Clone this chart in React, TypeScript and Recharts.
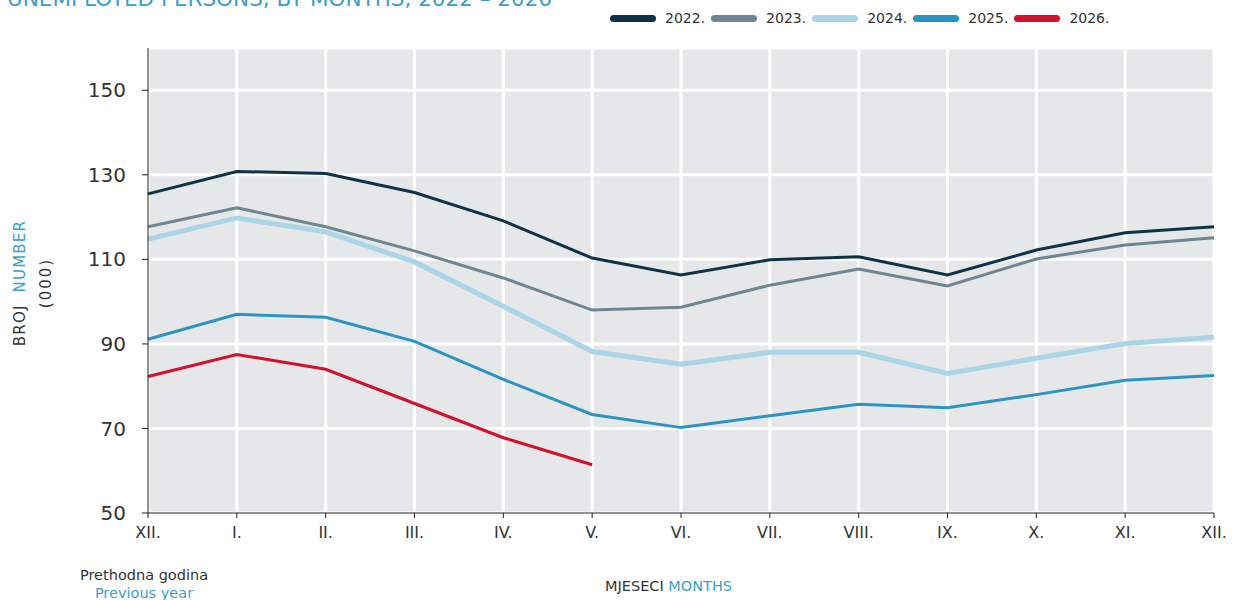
import React from "react";
import { CartesianGrid, Line, LineChart, XAxis, YAxis } from "recharts";

// Unemployed persons by month, 2022–2026 (thousands). First point = December of the previous year.
const months = ["XII.", "I.", "II.", "III.", "IV.", "V.", "VI.", "VII.", "VIII.", "IX.", "X.", "XI.", "XII."];
const y2022 = [125.5, 130.8, 130.3, 125.8, 119.1, 110.3, 106.3, 109.9, 110.6, 106.3, 112.2, 116.3, 117.7];
const y2023 = [117.7, 122.2, 117.7, 112.0, 105.6, 98.0, 98.7, 103.9, 107.7, 103.7, 110.1, 113.4, 115.1];
const y2024 = [114.8, 119.8, 116.5, 109.4, 98.9, 88.2, 85.2, 88.0, 88.0, 83.0, 86.6, 90.1, 91.6];
const y2025 = [91.1, 97.0, 96.3, 90.6, 81.6, 73.3, 70.2, 73.0, 75.7, 74.9, 78.0, 81.4, 82.5];
const y2026 = [82.3, 87.5, 84.0, 75.9, 67.8, 61.4];
const yTicks = [50, 70, 90, 110, 130, 150];

const SERIES = [
  { key: "y2022", name: "2022.", color: "#0e3348", width: 3 },
  { key: "y2023", name: "2023.", color: "#6e8691", width: 3 },
  { key: "y2024", name: "2024.", color: "#a9d5e7", width: 5 },
  { key: "y2025", name: "2025.", color: "#2a94c4", width: 3 },
  { key: "y2026", name: "2026.", color: "#d5102f", width: 3 },
];
const BLUE = "#3a9fcb";
const INK = "#333333";
const FONT = "'DejaVu Sans', sans-serif";

const rows = months.map((m, i) => ({
  i,
  y2022: y2022[i],
  y2023: y2023[i],
  y2024: y2024[i],
  y2025: y2025[i],
  y2026: i < y2026.length ? y2026[i] : null,
}));

export default function App() {
  return (
    <div style={{ position: "absolute", left: 0, top: 0, width: 1240, height: 600, background: "#fff", overflow: "hidden", fontFamily: FONT }}>
      <div style={{ position: "absolute", left: 7, top: -14, fontSize: 21.5, color: BLUE, whiteSpace: "nowrap" }}>
        UNEMPLOYED PERSONS, BY MONTHS, 2022 – 2026
      </div>

      {/* legend */}
      <div style={{ position: "absolute", left: 610, top: 10, display: "flex", alignItems: "center", fontSize: 14, color: INK }}>
        {SERIES.map((s) => (
          <div key={s.key} style={{ display: "flex", alignItems: "center", marginRight: 6 }}>
            <span
              style={{
                display: "inline-block",
                width: 46,
                height: 7,
                borderRadius: 3.5,
                background: s.color,
                marginRight: 9,
              }}
            />
            {s.name}
          </div>
        ))}
      </div>

      <LineChart width={1240} height={600} data={rows} margin={{ top: 48, right: 26, bottom: 57, left: 88 }}>
        <CartesianGrid fill="#e6e7e9" stroke="#ffffff" strokeWidth={3} />
        <XAxis
          dataKey="i"
          type="number"
          domain={[0, 12]}
          ticks={months.map((_, i) => i)}
          tickFormatter={(v: number) => months[v]}
          interval={0}
          stroke="#222"
          tickSize={5}
          tickMargin={9}
          height={30}
          tick={{ fontSize: 16, fill: INK, fontFamily: FONT }}
        />
        <YAxis
          type="number"
          domain={[50, 160]}
          ticks={yTicks}
          interval={0}
          stroke="#222"
          tickSize={6}
          tickMargin={16}
          width={60}
          tick={{ fontSize: 20, fill: INK, fontFamily: FONT }}
        />
        {SERIES.map((s) => (
          <Line
            key={s.key}
            dataKey={s.key}
            name={s.name}
            stroke={s.color}
            strokeWidth={s.width}
            dot={false}
            isAnimationActive={false}
          />
        ))}
      </LineChart>

      <div
        style={{
          position: "absolute",
          left: 20,
          top: 283,
          transform: "translate(-50%, -50%) rotate(-90deg)",
          fontSize: 15,
          letterSpacing: 1.2,
          color: INK,
          whiteSpace: "nowrap",
        }}
      >
        BROJ <span style={{ color: BLUE, marginLeft: 6 }}>NUMBER</span>
      </div>
      <div
        style={{
          position: "absolute",
          left: 46,
          top: 283,
          transform: "translate(-50%, -50%) rotate(-90deg)",
          fontSize: 15,
          letterSpacing: 2,
          color: INK,
          whiteSpace: "nowrap",
        }}
      >
        (000)
      </div>

      <div style={{ position: "absolute", left: 66, top: 566, fontSize: 14.5, color: INK, lineHeight: "18px", textAlign: "center", width: 156 }}>
        Prethodna godina
        <div style={{ color: BLUE }}>Previous year</div>
      </div>
      <div style={{ position: "absolute", left: 605, top: 578, fontSize: 14.5, color: INK, whiteSpace: "nowrap" }}>
        MJESECI <span style={{ color: BLUE }}>MONTHS</span>
      </div>
    </div>
  );
}
